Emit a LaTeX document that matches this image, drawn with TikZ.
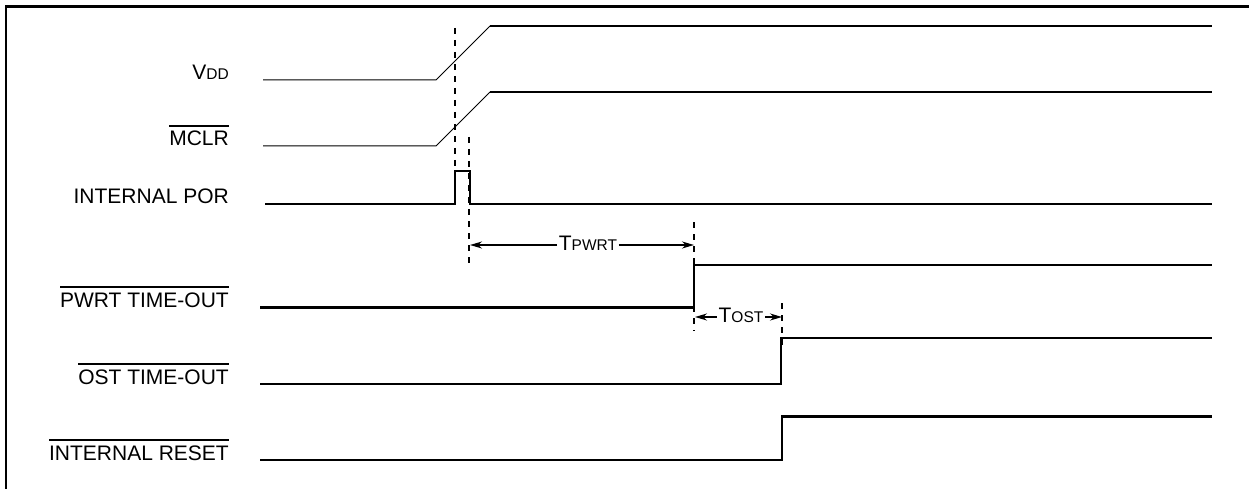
\documentclass[tikz,border=0pt]{standalone}
\usepackage{fontspec}
\setmainfont{Liberation Sans}
\usetikzlibrary{arrows.meta}
\newcommand\ovl[1]{\vbox{\hrule height 1.7pt\kern 4.8pt\hbox{#1}}}
\newcommand\bigf{\fontsize{21}{25}\selectfont}
\newcommand\smf{\fontsize{15.5}{18}\selectfont}
\begin{document}
\begin{tikzpicture}[x=1pt,y=-1pt,
  sig/.style={line width=2.6pt},
  thinsig/.style={line width=1pt},
  guide/.style={line width=2pt,dash pattern=on 6pt off 6pt},
  dim/.style={line width=1.6pt,-{Stealth[length=12pt,width=7pt]}},
  lbl/.style={anchor=base east,inner sep=0pt,font=\bigf},
  dimlbl/.style={anchor=base,inner sep=1.5pt,font=\bigf}]
\useasboundingbox (0,0) rectangle (1249,489);
% frame
\draw[line width=2.2pt] (6,489) -- (6,6.5) -- (1249,6.5);
% labels
\node[lbl] (lvdd) at (229,80) {V{\smf DD}};
\node[lbl] (lmclr) at (229,146) {\ovl{MCLR}};
\node[lbl] (lpor) at (229,204) {INTERNAL POR};
\node[lbl] (lpwrt) at (229,307.5) {\ovl{PWRT TIME-OUT}};
\node[lbl] (lost) at (229,384) {\ovl{OST TIME-OUT}};
\node[lbl] (lrst) at (229,460) {\ovl{INTERNAL RESET}};
% VDD
\draw[thinsig] (263,80) -- (436,80) -- (490,26);
\draw[sig] (490,26) -- (1212,26);
% MCLR
\draw[thinsig] (263,146) -- (436,146) -- (490,92);
\draw[sig] (490,92) -- (1212,92);
% internal POR
\draw[sig] (265,204) -- (455,204) -- (455,171) -- (470,171) -- (470,204) -- (1212,204);
% PWRT time-out
\draw[sig] (260,307.5) -- (694,307.5) -- (694,265) -- (1212,265);
% OST time-out
\draw[sig] (260,384) -- (781,384) -- (781,338) -- (1212,338);
% internal reset
\draw[sig] (260,460) -- (782,460) -- (782,416.5) -- (1212,416.5);
% guides
\draw[guide] (455,28) -- (455,171);
\draw[guide] (469,137) -- (469,266);
\draw[guide] (694,222) -- (694,331);
\draw[guide] (782,303) -- (782,346);
% TPWRT
\coordinate (pa) at (470,245);
\coordinate (pb) at (694,245);
\node[dimlbl] (tpwrt) at (588,250) {T{\smf PWRT}};
\draw[dim] (tpwrt.west |- pa) -- (pa);
\draw[dim] (tpwrt.east |- pb) -- (pb);
% TOST
\coordinate (oa) at (695,317);
\coordinate (ob) at (782,317);
\node[dimlbl] (tost) at (741,322) {T{\smf OST}};
\draw[dim] (tost.west |- oa) -- (oa);
\draw[dim] (tost.east |- ob) -- (ob);
\end{tikzpicture}
\end{document}
